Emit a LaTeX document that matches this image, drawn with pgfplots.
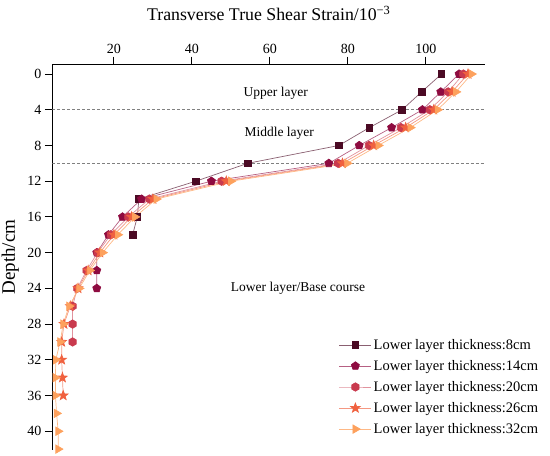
\documentclass[border=0pt]{standalone}
\usepackage{fontspec}
\setmainfont{Liberation Serif}
\usepackage{pgfplots}
\pgfplotsset{compat=1.18}
\definecolor{cA}{HTML}{4B0A24}
\definecolor{cB}{HTML}{8E0B40}
\definecolor{cC}{HTML}{C93A4E}
\definecolor{cD}{HTML}{F0613F}
\definecolor{cE}{HTML}{FDA15D}
\pgfdeclareplotmark{hexagon*}{%
  \pgfpathmoveto{\pgfpointpolar{90}{\pgfplotmarksize}}%
  \pgfpathlineto{\pgfpointpolar{150}{\pgfplotmarksize}}%
  \pgfpathlineto{\pgfpointpolar{210}{\pgfplotmarksize}}%
  \pgfpathlineto{\pgfpointpolar{270}{\pgfplotmarksize}}%
  \pgfpathlineto{\pgfpointpolar{330}{\pgfplotmarksize}}%
  \pgfpathlineto{\pgfpointpolar{30}{\pgfplotmarksize}}%
  \pgfpathclose\pgfusepathqfillstroke}
\pgfdeclareplotmark{star5*}{%
  \pgfpathmoveto{\pgfpointpolar{90}{\pgfplotmarksize}}%
  \pgfpathlineto{\pgfpointpolar{126}{0.42\pgfplotmarksize}}%
  \pgfpathlineto{\pgfpointpolar{162}{\pgfplotmarksize}}%
  \pgfpathlineto{\pgfpointpolar{198}{0.42\pgfplotmarksize}}%
  \pgfpathlineto{\pgfpointpolar{234}{\pgfplotmarksize}}%
  \pgfpathlineto{\pgfpointpolar{270}{0.42\pgfplotmarksize}}%
  \pgfpathlineto{\pgfpointpolar{306}{\pgfplotmarksize}}%
  \pgfpathlineto{\pgfpointpolar{342}{0.42\pgfplotmarksize}}%
  \pgfpathlineto{\pgfpointpolar{18}{\pgfplotmarksize}}%
  \pgfpathlineto{\pgfpointpolar{54}{0.42\pgfplotmarksize}}%
  \pgfpathclose\pgfusepathqfillstroke}
\begin{document}
\begin{tikzpicture}
\begin{axis}[
  scale only axis,
  width=432.9bp, height=385.8bp,
  xmin=4.2, xmax=115.2,
  ymin=-1.1, ymax=42.1,
  y dir=reverse,
  axis x line*=top,
  axis y line*=left,
  axis line style={line width=0.9bp},
  xtick={20,40,60,80,100},
  ytick={0,4,...,40},
  tick align=outside,
  major tick length=7.5bp,
  tick style={line width=0.9bp, black},
  ticklabel style={font=\fontsize{14bp}{16bp}\selectfont},
  /pgf/number format/assume math mode=true,
  legend style={draw=none, fill=none, at={(0.655,0.297)}, anchor=north west,
    font=\fontsize{14.5bp}{16bp}\selectfont, row sep=6.5bp,
    nodes={inner xsep=2bp, inner ysep=1.5bp}},
  legend cell align=left,
  legend image code/.code={%
    \draw[mark repeat=2,mark phase=2] plot coordinates {(0bp,0bp)(16bp,0bp)(32bp,0bp)};},
]
\addplot[gray, densely dashed, line width=0.5bp, forget plot] coordinates {(4.2,4)(115.2,4)};
\addplot[gray, densely dashed, line width=0.5bp, forget plot] coordinates {(4.2,10)(115.2,10)};

\addplot[draw=cA!65!white, line width=0.7bp, mark=square*, mark size=3.3bp,
  mark options={fill=cA, draw=cA, solid}] coordinates {
(104.0,0)(98.9,2)(93.9,4)(85.5,6)(77.7,8)(54.3,10)(41.0,12)(26.4,14)(26.0,16)(24.8,18)};
\addlegendentry{Lower layer thickness:8cm}

\addplot[draw=cB!65!white, line width=0.7bp, mark=pentagon*, mark size=4.2bp,
  mark options={fill=cB, draw=cB, solid}] coordinates {
(108.5,0)(103.8,2)(99.1,4)(91.2,6)(82.9,8)(75.1,10)(45.0,12)(27.1,14)(22.2,16)(18.6,18)(15.6,20)(15.6,22)(15.6,24)};
\addlegendentry{Lower layer thickness:14cm}

\addplot[draw=cC!55!white, line width=0.7bp, mark=hexagon*, mark size=4.2bp,
  mark options={fill=cC, draw=cC, solid}] coordinates {
(109.6,0)(105.7,2)(101.0,4)(93.6,6)(85.4,8)(77.5,10)(47.6,12)(29.1,14)(23.7,16)(19.2,18)(15.8,20)(13.0,22)(10.6,24)(9.4,26)(9.4,28)(9.4,30)};
\addlegendentry{Lower layer thickness:20cm}

\addplot[draw=cD!65!white, line width=0.7bp, mark=star5*, mark size=5bp,
  mark options={fill=cD, draw=cD, solid}] coordinates {
(110.8,0)(106.7,2)(102.0,4)(94.8,6)(86.6,8)(78.6,10)(48.8,12)(30.0,14)(24.5,16)(20.0,18)(16.4,20)(13.4,22)(10.8,24)(8.8,26)(7.2,28)(6.6,30)(6.6,32)(6.8,34)(7.0,36)};
\addlegendentry{Lower layer thickness:26cm}

\addplot[draw=cE!75!white, line width=0.7bp, mark=triangle*, mark size=4.8bp,
  mark options={fill=cE, draw=cE, solid, rotate=-90}] coordinates {
(111.7,0)(107.7,2)(103.0,4)(96.0,6)(87.8,8)(79.8,10)(50.0,12)(30.9,14)(25.4,16)(21.0,18)(17.1,20)(13.8,22)(11.1,24)(8.5,26)(7.0,28)(6.2,30)(5.1,32)(5.0,34)(5.0,36)(5.3,38)(5.7,40)(5.7,42)};
\addlegendentry{Lower layer thickness:32cm}

\node[font=\fontsize{13.5bp}{15bp}\selectfont] at (axis cs:61.5,2.1) {Upper layer};
\node[font=\fontsize{13.5bp}{15bp}\selectfont] at (axis cs:62.4,6.65) {Middle layer};
\node[font=\fontsize{13.5bp}{15bp}\selectfont] at (axis cs:67.2,24.0) {Lower layer/Base course};
\end{axis}
\node[anchor=base, font=\fontsize{17.8bp}{20bp}\selectfont] at ([yshift=43.6bp]current axis.north) {Transverse True Shear Strain/10\textsuperscript{−3}};
\node[rotate=90, font=\fontsize{19bp}{21bp}\selectfont] at ([xshift=-42bp]current axis.west) {Depth/cm};
\pgfresetboundingbox
\path[use as bounding box] ([xshift=-52.3bp,yshift=-6bp]current axis.south west) rectangle ++(550bp,456bp);
\end{tikzpicture}
\end{document}
